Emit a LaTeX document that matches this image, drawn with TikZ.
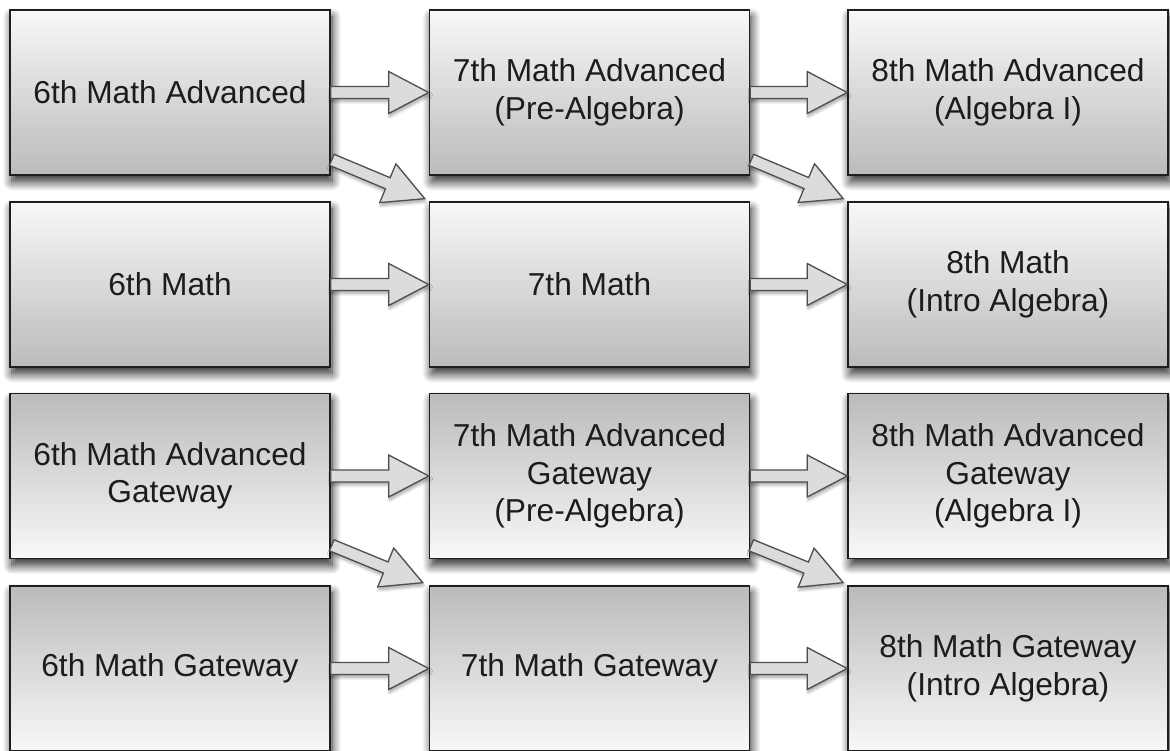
\documentclass[tikz,border=0pt]{standalone}
\usepackage{fontspec}
\setmainfont{Liberation Sans}
\usetikzlibrary{calc,shadows.blur}
\definecolor{boxline}{HTML}{1E1E1E}
\definecolor{shadetop}{HTML}{F8F8F8}
\definecolor{shadebot}{HTML}{BBBBBB}
\definecolor{arrowline}{HTML}{4E4E4E}
\definecolor{arrowfill}{HTML}{DCDCDC}
\definecolor{labeltext}{HTML}{1C1C1C}
\begin{document}
\begin{tikzpicture}[x=1pt,y=1pt,
  course/.style={draw=boxline, line width=1.6pt, minimum width=320pt, minimum height=165pt,
    inner sep=0pt, align=center, font=\fontsize{31.7}{37.5}\selectfont, text=labeltext,
    blur shadow={shadow xshift=2pt, shadow yshift=-7pt, shadow blur radius=9pt,
      shadow blur steps=14, shadow opacity=85}},
  lightup/.style={course, top color=shadetop, bottom color=shadebot},
  lightdown/.style={course, top color=shadebot, bottom color=shadetop},
  fatarrow/.style={draw=arrowline, fill=arrowfill, line width=1.3pt, line join=miter,
    blur shadow={shadow xshift=1pt, shadow yshift=-3pt, shadow blur radius=3pt,
      shadow blur steps=6, shadow opacity=35},
    to path={
      ($(\tikztostart)!6pt!90:(\tikztotarget)$)
      -- ($ ($(\tikztotarget)!40pt!(\tikztostart)$)!6pt!90:(\tikztotarget) $)
      -- ($ ($(\tikztotarget)!40pt!(\tikztostart)$)!21pt!90:(\tikztotarget) $)
      -- (\tikztotarget)
      -- ($ ($(\tikztotarget)!40pt!(\tikztostart)$)!21pt!-90:(\tikztotarget) $)
      -- ($ ($(\tikztotarget)!40pt!(\tikztostart)$)!6pt!-90:(\tikztotarget) $)
      -- ($(\tikztostart)!6pt!-90:(\tikztotarget)$)
      -- cycle}}
  ]
\useasboundingbox (0,0) rectangle (1170,750);
% row 1
\node[lightup] (a1) at (170,657.5) {6th Math Advanced};
\node[lightup] (b1) at (589.5,657.5) {7th Math Advanced\\(Pre-Algebra)};
\node[lightup] (c1) at (1008,657.5) {8th Math Advanced\\(Algebra I)};
% row 2
\node[lightup] (a2) at (170,465.5) {6th Math};
\node[lightup] (b2) at (589.5,465.5) {7th Math};
\node[lightup] (c2) at (1008,465.5) {8th Math\\(Intro Algebra)};
% row 3
\node[lightdown] (a3) at (170,274) {6th Math Advanced\\Gateway};
\node[lightdown] (b3) at (589.5,274) {7th Math Advanced\\Gateway\\(Pre-Algebra)};
\node[lightdown] (c3) at (1008,274) {8th Math Advanced\\Gateway\\(Algebra I)};
% row 4
\node[lightdown] (a4) at (170,81.5) {6th Math Gateway};
\node[lightdown] (b4) at (589.5,81.5) {7th Math Gateway};
\node[lightdown] (c4) at (1008,81.5) {8th Math Gateway\\(Intro Algebra)};
% diagonal end points
\coordinate (d1s) at ($(a1.south east)+(1,16)$);
\coordinate (d1t) at ($(b2.north west)+(-4,2.5)$);
\coordinate (d2s) at ($(b1.south east)+(1,16)$);
\coordinate (d2t) at ($(c2.north west)+(-4,2.5)$);
\coordinate (d3s) at ($(a3.south east)+(1,14)$);
\coordinate (d3t) at ($(b4.north west)+(-6,2.5)$);
\coordinate (d4s) at ($(b3.south east)+(1,14)$);
\coordinate (d4t) at ($(c4.north west)+(-4,2.5)$);
% horizontal arrows
\path[fatarrow] (a1.east) to (b1.west);
\path[fatarrow] (b1.east) to (c1.west);
\path[fatarrow] (a2.east) to (b2.west);
\path[fatarrow] (b2.east) to (c2.west);
\path[fatarrow] (a3.east) to (b3.west);
\path[fatarrow] (b3.east) to (c3.west);
\path[fatarrow] (a4.east) to (b4.west);
\path[fatarrow] (b4.east) to (c4.west);
% diagonal arrows
\path[fatarrow] (d1s) to (d1t);
\path[fatarrow] (d2s) to (d2t);
\path[fatarrow] (d3s) to (d3t);
\path[fatarrow] (d4s) to (d4t);
\end{tikzpicture}
\end{document}
